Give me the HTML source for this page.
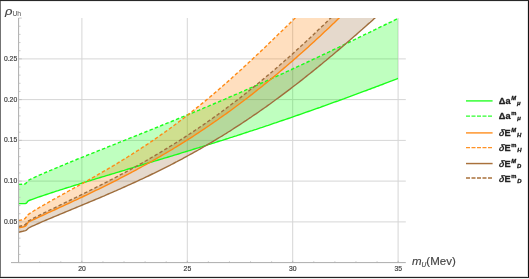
<!DOCTYPE html><html><head><meta charset="utf-8"><style>
html,body{margin:0;padding:0;background:#fff}
#w{position:relative;width:529px;height:279px;overflow:hidden;background:#fff;font-family:"Liberation Sans",sans-serif;color:#444}
.b{position:absolute;background:#2b2b2b}
.t{position:absolute;white-space:nowrap;line-height:1;filter:grayscale(1)}
.yl{font-size:6.8px;width:17.2px;text-align:right;left:0;-webkit-text-stroke:0.2px #444}
.xl{font-size:6.8px;width:20px;text-align:center;-webkit-text-stroke:0.2px #444}
.lg{font-size:9.2px;line-height:12px;height:12px;-webkit-text-stroke:0.3px #222;font-weight:bold;color:#222;left:498.8px}
.lg i{font-style:italic;display:inline-block;transform:skewX(-9deg);-webkit-text-stroke:0.1px #222}
.lg .su{font-size:5.8px;font-style:italic;position:relative;top:-3.9px;margin-left:0.7px;-webkit-text-stroke:0.3px #222;color:#111}
.lg .sb{font-size:5.9px;font-style:italic;position:relative;top:1.5px;margin-left:0.9px;-webkit-text-stroke:0.3px #222;color:#111}
</style></head><body><div id="w">
<svg width="529" height="279" viewBox="0 0 529 279" style="position:absolute;left:0;top:0">
<defs><clipPath id="cp"><rect x="18.6" y="18.0" width="379.6" height="244.6"/></clipPath></defs>
<line x1="81.9" y1="18.0" x2="81.9" y2="262.6" stroke="#d6d6d6" stroke-width="1"/>
<line x1="187.3" y1="18.0" x2="187.3" y2="262.6" stroke="#d6d6d6" stroke-width="1"/>
<line x1="292.7" y1="18.0" x2="292.7" y2="262.6" stroke="#d6d6d6" stroke-width="1"/>
<line x1="398.1" y1="18.0" x2="398.1" y2="262.6" stroke="#d6d6d6" stroke-width="1"/>
<line x1="18.6" y1="221.9" x2="405.8" y2="221.9" stroke="#d6d6d6" stroke-width="1"/>
<line x1="18.6" y1="181.1" x2="405.8" y2="181.1" stroke="#d6d6d6" stroke-width="1"/>
<line x1="18.6" y1="140.4" x2="405.8" y2="140.4" stroke="#d6d6d6" stroke-width="1"/>
<line x1="18.6" y1="99.6" x2="405.8" y2="99.6" stroke="#d6d6d6" stroke-width="1"/>
<line x1="18.6" y1="58.9" x2="405.8" y2="58.9" stroke="#d6d6d6" stroke-width="1"/>
<g clip-path="url(#cp)">
<polygon points="18.6,203.6 25.3,203.5 26.4,203.1 27.3,202.0 28.3,200.8 30.3,200.0 32.3,199.3 34.3,198.6 36.3,197.9 38.3,197.2 40.3,196.5 42.3,195.8 44.3,195.2 46.3,194.5 48.3,193.8 50.3,193.2 52.3,192.5 54.3,191.9 56.3,191.2 58.3,190.6 60.3,189.9 62.3,189.3 64.3,188.7 66.3,188.0 68.3,187.4 70.3,186.8 72.3,186.1 74.3,185.5 76.3,184.9 78.3,184.3 80.3,183.6 82.3,183.0 84.3,182.4 86.3,181.8 88.3,181.2 90.3,180.6 92.3,179.9 94.3,179.3 96.3,178.7 98.3,178.1 100.3,177.5 102.3,176.9 104.3,176.3 106.3,175.7 108.3,175.1 110.3,174.5 112.3,173.9 114.3,173.3 116.3,172.7 118.3,172.1 120.3,171.5 122.3,170.9 124.3,170.3 126.3,169.6 128.3,169.0 130.3,168.4 132.3,167.8 134.3,167.2 136.3,166.6 138.3,166.0 140.3,165.4 142.3,164.8 144.3,164.2 146.3,163.6 148.3,163.0 150.3,162.4 152.3,161.8 154.3,161.2 156.3,160.6 158.3,160.0 160.3,159.4 162.3,158.8 164.3,158.2 166.3,157.6 168.3,157.0 170.3,156.4 172.3,155.8 174.3,155.2 176.3,154.6 178.3,154.0 180.3,153.3 182.3,152.7 184.3,152.1 186.3,151.5 188.3,150.9 190.3,150.3 192.3,149.7 194.3,149.0 196.3,148.4 198.3,147.8 200.3,147.2 202.3,146.6 204.3,145.9 206.3,145.3 208.3,144.7 210.3,144.1 212.3,143.4 214.3,142.8 216.3,142.2 218.3,141.5 220.3,140.9 222.3,140.3 224.3,139.6 226.3,139.0 228.3,138.4 230.3,137.7 232.3,137.1 234.3,136.4 236.3,135.8 238.3,135.1 240.3,134.5 242.3,133.8 244.3,133.2 246.3,132.5 248.3,131.9 250.3,131.2 252.3,130.6 254.3,129.9 256.3,129.3 258.3,128.6 260.3,127.9 262.3,127.3 264.3,126.6 266.3,125.9 268.3,125.3 270.3,124.6 272.3,123.9 274.3,123.2 276.3,122.6 278.3,121.9 280.3,121.2 282.3,120.5 284.3,119.8 286.3,119.2 288.3,118.5 290.3,117.8 292.3,117.1 294.3,116.4 296.3,115.7 298.3,115.0 300.3,114.3 302.3,113.6 304.3,112.9 306.3,112.2 308.3,111.5 310.3,110.8 312.3,110.1 314.3,109.4 316.3,108.7 318.3,108.0 320.3,107.3 322.3,106.5 324.3,105.8 326.3,105.1 328.3,104.4 330.3,103.7 332.3,102.9 334.3,102.2 336.3,101.5 338.3,100.8 340.3,100.0 342.3,99.3 344.3,98.6 346.3,97.8 348.3,97.1 350.3,96.4 352.3,95.6 354.3,94.9 356.3,94.2 358.3,93.4 360.3,92.7 362.3,91.9 364.3,91.2 366.3,90.5 368.3,89.7 370.3,89.0 372.3,88.2 374.3,87.5 376.3,86.7 378.3,86.0 380.3,85.2 382.3,84.5 384.3,83.7 386.3,82.9 388.3,82.2 390.3,81.4 392.3,80.7 394.3,79.9 396.3,79.2 398.2,78.4 398.2,18.4 396.6,19.1 394.6,20.1 392.6,21.1 390.6,22.1 388.6,23.0 386.6,24.0 384.6,25.0 382.6,26.0 380.6,26.9 378.6,27.9 376.6,28.9 374.6,29.9 372.6,30.8 370.6,31.8 368.6,32.8 366.6,33.7 364.6,34.7 362.6,35.7 360.6,36.7 358.6,37.6 356.6,38.6 354.6,39.6 352.6,40.5 350.6,41.5 348.6,42.5 346.6,43.4 344.6,44.4 342.6,45.4 340.6,46.3 338.6,47.3 336.6,48.2 334.6,49.2 332.6,50.1 330.6,51.1 328.6,52.1 326.6,53.0 324.6,54.0 322.6,54.9 320.6,55.9 318.6,56.8 316.6,57.7 314.6,58.7 312.6,59.6 310.6,60.6 308.6,61.5 306.6,62.5 304.6,63.4 302.6,64.3 300.6,65.3 298.6,66.2 296.6,67.1 294.6,68.0 292.6,69.0 290.6,69.9 288.6,70.8 286.6,71.7 284.6,72.6 282.6,73.6 280.6,74.5 278.6,75.4 276.6,76.3 274.6,77.2 272.6,78.1 270.6,79.0 268.6,79.9 266.6,80.8 264.6,81.7 262.6,82.6 260.6,83.5 258.6,84.4 256.6,85.3 254.6,86.2 252.6,87.1 250.6,87.9 248.6,88.8 246.6,89.7 244.6,90.6 242.6,91.5 240.6,92.3 238.6,93.2 236.6,94.1 234.6,94.9 232.6,95.8 230.6,96.7 228.6,97.5 226.6,98.4 224.6,99.3 222.6,100.1 220.6,101.0 218.6,101.8 216.6,102.7 214.6,103.5 212.6,104.4 210.6,105.2 208.6,106.1 206.6,106.9 204.6,107.7 202.6,108.6 200.6,109.4 198.6,110.3 196.6,111.1 194.6,111.9 192.6,112.8 190.6,113.6 188.6,114.4 186.6,115.2 184.6,116.1 182.6,116.9 180.6,117.7 178.6,118.5 176.6,119.3 174.6,120.2 172.6,121.0 170.6,121.8 168.6,122.6 166.6,123.4 164.6,124.2 162.6,125.0 160.6,125.8 158.6,126.7 156.6,127.5 154.6,128.3 152.6,129.1 150.6,129.9 148.6,130.7 146.6,131.5 144.6,132.3 142.6,133.1 140.6,133.9 138.6,134.7 136.6,135.5 134.6,136.3 132.6,137.1 130.6,137.9 128.6,138.7 126.6,139.5 124.6,140.3 122.6,141.1 120.6,141.9 118.6,142.7 116.6,143.5 114.6,144.3 112.6,145.1 110.6,145.9 108.6,146.7 106.6,147.5 104.6,148.3 102.6,149.1 100.6,149.9 98.6,150.7 96.6,151.5 94.6,152.3 92.6,153.1 90.6,153.9 88.6,154.7 86.6,155.5 84.6,156.3 82.6,157.1 80.6,157.9 78.6,158.7 76.6,159.5 74.6,160.4 72.6,161.2 70.6,162.0 68.6,162.8 66.6,163.6 64.6,164.5 62.6,165.3 60.6,166.1 58.6,167.0 56.6,167.8 54.6,168.6 52.6,169.5 50.6,170.3 48.6,171.2 46.6,172.0 44.6,172.9 42.6,173.8 40.6,174.6 38.6,175.5 36.6,176.4 34.6,177.3 32.6,178.3 30.6,179.2 28.6,180.2 26.9,182.2 25.6,183.6 24.3,184.2 18.6,184.4" fill="#00ff00" fill-opacity="0.25"/>
<polygon points="18.6,227.9 22.8,227.0 25.0,226.3 26.2,225.4 27.2,223.8 28.3,222.2 30.3,221.2 32.3,220.2 34.3,219.3 36.3,218.3 38.3,217.4 40.3,216.4 42.3,215.5 44.3,214.6 46.3,213.7 48.3,212.7 50.3,211.8 52.3,210.9 54.3,210.0 56.3,209.0 58.3,208.1 60.3,207.2 62.3,206.3 64.3,205.4 66.3,204.4 68.3,203.5 70.3,202.6 72.3,201.6 74.3,200.7 76.3,199.8 78.3,198.8 80.3,197.9 82.3,197.0 84.3,196.0 86.3,195.1 88.3,194.1 90.3,193.1 92.3,192.2 94.3,191.2 96.3,190.2 98.3,189.3 100.3,188.3 102.3,187.3 104.3,186.3 106.3,185.3 108.3,184.3 110.3,183.3 112.3,182.3 114.3,181.3 116.3,180.3 118.3,179.3 120.3,178.2 122.3,177.2 124.3,176.2 126.3,175.1 128.3,174.1 130.3,173.0 132.3,172.0 134.3,170.9 136.3,169.8 138.3,168.7 140.3,167.6 142.3,166.5 144.3,165.4 146.3,164.3 148.3,163.2 150.3,162.1 152.3,161.0 154.3,159.8 156.3,158.7 158.3,157.5 160.3,156.4 162.3,155.2 164.3,154.0 166.3,152.8 168.3,151.7 170.3,150.5 172.3,149.3 174.3,148.0 176.3,146.8 178.3,145.6 180.3,144.4 182.3,143.1 184.3,141.9 186.3,140.6 188.3,139.3 190.3,138.1 192.3,136.8 194.3,135.5 196.3,134.2 198.3,132.9 200.3,131.5 202.3,130.2 204.3,128.9 206.3,127.5 208.3,126.2 210.3,124.8 212.3,123.4 214.3,122.0 216.3,120.7 218.3,119.3 220.3,117.8 222.3,116.4 224.3,115.0 226.3,113.6 228.3,112.1 230.3,110.7 232.3,109.2 234.3,107.7 236.3,106.2 238.3,104.8 240.3,103.3 242.3,101.7 244.3,100.2 246.3,98.7 248.3,97.2 250.3,95.6 252.3,94.1 254.3,92.5 256.3,90.9 258.3,89.3 260.3,87.8 262.3,86.2 264.3,84.5 266.3,82.9 268.3,81.3 270.3,79.7 272.3,78.0 274.3,76.4 276.3,74.7 278.3,73.0 280.3,71.3 282.3,69.6 284.3,67.9 286.3,66.2 288.3,64.5 290.3,62.8 292.3,61.1 294.3,59.3 296.3,57.6 298.3,55.8 300.3,54.0 302.3,52.3 304.3,50.5 306.3,48.7 308.3,46.9 310.3,45.0 312.3,43.2 314.3,41.4 316.3,39.6 318.3,37.7 320.3,35.9 322.3,34.0 324.3,32.1 326.3,30.3 328.3,28.4 330.3,26.5 332.3,24.6 334.3,22.7 336.3,20.7 338.3,18.8 340.3,16.9 342.3,14.9 344.3,13.0 346.3,11.0 348.3,9.1 350.3,7.1 352.3,5.1 354.3,3.2 356.3,1.2 358.3,-0.8 360.3,-2.8 362.3,-4.8 364.3,-6.8 366.3,-8.9 368.3,-10.9 370.3,-12.9 372.3,-15.0 374.3,-17.0 376.3,-19.1 378.3,-21.1 380.3,-23.2 382.3,-25.3 384.3,-27.3 386.3,-29.4 388.3,-31.5 390.3,-33.6 392.3,-35.7 394.3,-37.8 396.3,-39.9 398.2,-41.9 398.2,-73.8 397.6,-73.4 395.6,-72.1 393.6,-70.6 391.6,-69.2 389.6,-67.7 387.6,-66.3 385.6,-64.7 383.6,-63.2 381.6,-61.7 379.6,-60.1 377.6,-58.5 375.6,-56.9 373.6,-55.2 371.6,-53.6 369.6,-51.9 367.6,-50.2 365.6,-48.5 363.6,-46.8 361.6,-45.1 359.6,-43.3 357.6,-41.6 355.6,-39.8 353.6,-38.0 351.6,-36.2 349.6,-34.4 347.6,-32.5 345.6,-30.7 343.6,-28.8 341.6,-27.0 339.6,-25.1 337.6,-23.2 335.6,-21.3 333.6,-19.4 331.6,-17.5 329.6,-15.6 327.6,-13.7 325.6,-11.8 323.6,-9.8 321.6,-7.9 319.6,-6.0 317.6,-4.0 315.6,-2.1 313.6,-0.1 311.6,1.8 309.6,3.8 307.6,5.7 305.6,7.7 303.6,9.7 301.6,11.6 299.6,13.6 297.6,15.5 295.6,17.5 293.6,19.5 291.6,21.4 289.6,23.4 287.6,25.3 285.6,27.3 283.6,29.2 281.6,31.2 279.6,33.1 277.6,35.1 275.6,37.0 273.6,39.0 271.6,40.9 269.6,42.8 267.6,44.7 265.6,46.7 263.6,48.6 261.6,50.5 259.6,52.4 257.6,54.3 255.6,56.1 253.6,58.0 251.6,59.9 249.6,61.8 247.6,63.6 245.6,65.5 243.6,67.3 241.6,69.2 239.6,71.0 237.6,72.8 235.6,74.6 233.6,76.4 231.6,78.2 229.6,80.0 227.6,81.7 225.6,83.5 223.6,85.3 221.6,87.0 219.6,88.7 217.6,90.5 215.6,92.2 213.6,93.9 211.6,95.6 209.6,97.3 207.6,98.9 205.6,100.6 203.6,102.3 201.6,103.9 199.6,105.5 197.6,107.1 195.6,108.8 193.6,110.3 191.6,111.9 189.6,113.5 187.6,115.1 185.6,116.6 183.6,118.2 181.6,119.7 179.6,121.2 177.6,122.7 175.6,124.2 173.6,125.7 171.6,127.2 169.6,128.7 167.6,130.1 165.6,131.6 163.6,133.0 161.6,134.4 159.6,135.8 157.6,137.2 155.6,138.6 153.6,140.0 151.6,141.4 149.6,142.7 147.6,144.1 145.6,145.4 143.6,146.7 141.6,148.0 139.6,149.4 137.6,150.7 135.6,151.9 133.6,153.2 131.6,154.5 129.6,155.8 127.6,157.0 125.6,158.3 123.6,159.5 121.6,160.7 119.6,161.9 117.6,163.2 115.6,164.4 113.6,165.6 111.6,166.7 109.6,167.9 107.6,169.1 105.6,170.3 103.6,171.4 101.6,172.6 99.6,173.7 97.6,174.9 95.6,176.0 93.6,177.2 91.6,178.3 89.6,179.4 87.6,180.6 85.6,181.7 83.6,182.8 81.6,183.9 79.6,185.0 77.6,186.1 75.6,187.2 73.6,188.3 71.6,189.4 69.6,190.5 67.6,191.6 65.6,192.8 63.6,193.9 61.6,195.0 59.6,196.1 57.6,197.2 55.6,198.3 53.6,199.4 51.6,200.5 49.6,201.6 47.6,202.8 45.6,203.9 43.6,205.1 41.6,206.2 39.6,207.4 37.6,208.6 35.6,209.8 33.6,211.0 31.6,212.3 29.6,213.6 27.6,214.9 25.9,217.6 24.6,218.9 22.8,219.8 18.6,220.5" fill="#ff8000" fill-opacity="0.25"/>
<polygon points="18.6,232.3 22.8,231.3 25.4,230.6 26.4,230.1 27.3,229.3 28.3,228.2 30.3,227.2 32.3,226.2 34.3,225.3 36.3,224.4 38.3,223.5 40.3,222.6 42.3,221.7 44.3,220.9 46.3,220.0 48.3,219.2 50.3,218.3 52.3,217.5 54.3,216.6 56.3,215.8 58.3,215.0 60.3,214.1 62.3,213.3 64.3,212.5 66.3,211.6 68.3,210.8 70.3,210.0 72.3,209.1 74.3,208.3 76.3,207.5 78.3,206.7 80.3,205.8 82.3,205.0 84.3,204.2 86.3,203.3 88.3,202.5 90.3,201.7 92.3,200.8 94.3,200.0 96.3,199.1 98.3,198.3 100.3,197.5 102.3,196.6 104.3,195.8 106.3,194.9 108.3,194.0 110.3,193.2 112.3,192.3 114.3,191.4 116.3,190.6 118.3,189.7 120.3,188.8 122.3,187.9 124.3,187.0 126.3,186.1 128.3,185.2 130.3,184.3 132.3,183.4 134.3,182.5 136.3,181.6 138.3,180.7 140.3,179.7 142.3,178.8 144.3,177.9 146.3,176.9 148.3,176.0 150.3,175.0 152.3,174.0 154.3,173.1 156.3,172.1 158.3,171.1 160.3,170.1 162.3,169.1 164.3,168.1 166.3,167.1 168.3,166.1 170.3,165.1 172.3,164.0 174.3,163.0 176.3,162.0 178.3,160.9 180.3,159.8 182.3,158.8 184.3,157.7 186.3,156.6 188.3,155.5 190.3,154.4 192.3,153.3 194.3,152.2 196.3,151.1 198.3,150.0 200.3,148.8 202.3,147.7 204.3,146.5 206.3,145.4 208.3,144.2 210.3,143.0 212.3,141.8 214.3,140.6 216.3,139.4 218.3,138.2 220.3,137.0 222.3,135.8 224.3,134.5 226.3,133.3 228.3,132.0 230.3,130.8 232.3,129.5 234.3,128.2 236.3,126.9 238.3,125.6 240.3,124.3 242.3,123.0 244.3,121.7 246.3,120.4 248.3,119.0 250.3,117.7 252.3,116.3 254.3,114.9 256.3,113.6 258.3,112.2 260.3,110.8 262.3,109.4 264.3,108.0 266.3,106.6 268.3,105.1 270.3,103.7 272.3,102.2 274.3,100.8 276.3,99.3 278.3,97.9 280.3,96.4 282.3,94.9 284.3,93.4 286.3,91.9 288.3,90.4 290.3,88.9 292.3,87.3 294.3,85.8 296.3,84.3 298.3,82.7 300.3,81.1 302.3,79.6 304.3,78.0 306.3,76.4 308.3,74.8 310.3,73.2 312.3,71.6 314.3,70.0 316.3,68.4 318.3,66.8 320.3,65.1 322.3,63.5 324.3,61.8 326.3,60.2 328.3,58.5 330.3,56.8 332.3,55.2 334.3,53.5 336.3,51.8 338.3,50.1 340.3,48.4 342.3,46.7 344.3,45.0 346.3,43.2 348.3,41.5 350.3,39.8 352.3,38.0 354.3,36.3 356.3,34.6 358.3,32.8 360.3,31.0 362.3,29.3 364.3,27.5 366.3,25.7 368.3,23.9 370.3,22.2 372.3,20.4 374.3,18.6 376.3,16.8 378.3,15.0 380.3,13.2 382.3,11.4 384.3,9.6 386.3,7.7 388.3,5.9 390.3,4.1 392.3,2.3 394.3,0.5 396.3,-1.4 398.2,-3.1 398.2,-51.6 397.6,-51.0 395.6,-48.8 393.6,-46.7 391.6,-44.6 389.6,-42.4 387.6,-40.3 385.6,-38.2 383.6,-36.1 381.6,-34.0 379.6,-31.8 377.6,-29.7 375.6,-27.6 373.6,-25.5 371.6,-23.5 369.6,-21.4 367.6,-19.3 365.6,-17.2 363.6,-15.2 361.6,-13.1 359.6,-11.0 357.6,-9.0 355.6,-6.9 353.6,-4.9 351.6,-2.9 349.6,-0.8 347.6,1.2 345.6,3.2 343.6,5.2 341.6,7.2 339.6,9.2 337.6,11.2 335.6,13.1 333.6,15.1 331.6,17.1 329.6,19.0 327.6,21.0 325.6,22.9 323.6,24.9 321.6,26.8 319.6,28.7 317.6,30.6 315.6,32.5 313.6,34.4 311.6,36.3 309.6,38.2 307.6,40.0 305.6,41.9 303.6,43.7 301.6,45.6 299.6,47.4 297.6,49.2 295.6,51.1 293.6,52.9 291.6,54.7 289.6,56.5 287.6,58.2 285.6,60.0 283.6,61.8 281.6,63.5 279.6,65.3 277.6,67.0 275.6,68.7 273.6,70.5 271.6,72.2 269.6,73.9 267.6,75.5 265.6,77.2 263.6,78.9 261.6,80.6 259.6,82.2 257.6,83.8 255.6,85.5 253.6,87.1 251.6,88.7 249.6,90.3 247.6,91.9 245.6,93.5 243.6,95.1 241.6,96.6 239.6,98.2 237.6,99.7 235.6,101.3 233.6,102.8 231.6,104.3 229.6,105.8 227.6,107.3 225.6,108.8 223.6,110.3 221.6,111.8 219.6,113.2 217.6,114.7 215.6,116.1 213.6,117.5 211.6,119.0 209.6,120.4 207.6,121.8 205.6,123.2 203.6,124.6 201.6,125.9 199.6,127.3 197.6,128.7 195.6,130.0 193.6,131.3 191.6,132.7 189.6,134.0 187.6,135.3 185.6,136.6 183.6,137.9 181.6,139.2 179.6,140.5 177.6,141.8 175.6,143.0 173.6,144.3 171.6,145.5 169.6,146.7 167.6,148.0 165.6,149.2 163.6,150.4 161.6,151.6 159.6,152.8 157.6,154.0 155.6,155.2 153.6,156.4 151.6,157.5 149.6,158.7 147.6,159.8 145.6,161.0 143.6,162.1 141.6,163.3 139.6,164.4 137.6,165.5 135.6,166.6 133.6,167.7 131.6,168.8 129.6,169.9 127.6,171.0 125.6,172.1 123.6,173.2 121.6,174.2 119.6,175.3 117.6,176.3 115.6,177.4 113.6,178.4 111.6,179.5 109.6,180.5 107.6,181.6 105.6,182.6 103.6,183.6 101.6,184.6 99.6,185.6 97.6,186.7 95.6,187.7 93.6,188.7 91.6,189.7 89.6,190.7 87.6,191.7 85.6,192.6 83.6,193.6 81.6,194.6 79.6,195.6 77.6,196.6 75.6,197.6 73.6,198.5 71.6,199.5 69.6,200.5 67.6,201.5 65.6,202.4 63.6,203.4 61.6,204.4 59.6,205.3 57.6,206.3 55.6,207.3 53.6,208.3 51.6,209.2 49.6,210.2 47.6,211.2 45.6,212.2 43.6,213.1 41.6,214.1 39.6,215.1 37.6,216.1 35.6,217.2 33.6,218.2 31.6,219.2 29.6,220.3 27.6,221.4 26.6,223.0 25.6,224.3 24.6,225.0 22.8,225.6 18.6,226.5" fill="#996633" fill-opacity="0.25"/>
<polyline points="18.6,203.6 25.3,203.5 26.4,203.1 27.3,202.0 28.3,200.8 30.3,200.0 32.3,199.3 34.3,198.6 36.3,197.9 38.3,197.2 40.3,196.5 42.3,195.8 44.3,195.2 46.3,194.5 48.3,193.8 50.3,193.2 52.3,192.5 54.3,191.9 56.3,191.2 58.3,190.6 60.3,189.9 62.3,189.3 64.3,188.7 66.3,188.0 68.3,187.4 70.3,186.8 72.3,186.1 74.3,185.5 76.3,184.9 78.3,184.3 80.3,183.6 82.3,183.0 84.3,182.4 86.3,181.8 88.3,181.2 90.3,180.6 92.3,179.9 94.3,179.3 96.3,178.7 98.3,178.1 100.3,177.5 102.3,176.9 104.3,176.3 106.3,175.7 108.3,175.1 110.3,174.5 112.3,173.9 114.3,173.3 116.3,172.7 118.3,172.1 120.3,171.5 122.3,170.9 124.3,170.3 126.3,169.6 128.3,169.0 130.3,168.4 132.3,167.8 134.3,167.2 136.3,166.6 138.3,166.0 140.3,165.4 142.3,164.8 144.3,164.2 146.3,163.6 148.3,163.0 150.3,162.4 152.3,161.8 154.3,161.2 156.3,160.6 158.3,160.0 160.3,159.4 162.3,158.8 164.3,158.2 166.3,157.6 168.3,157.0 170.3,156.4 172.3,155.8 174.3,155.2 176.3,154.6 178.3,154.0 180.3,153.3 182.3,152.7 184.3,152.1 186.3,151.5 188.3,150.9 190.3,150.3 192.3,149.7 194.3,149.0 196.3,148.4 198.3,147.8 200.3,147.2 202.3,146.6 204.3,145.9 206.3,145.3 208.3,144.7 210.3,144.1 212.3,143.4 214.3,142.8 216.3,142.2 218.3,141.5 220.3,140.9 222.3,140.3 224.3,139.6 226.3,139.0 228.3,138.4 230.3,137.7 232.3,137.1 234.3,136.4 236.3,135.8 238.3,135.1 240.3,134.5 242.3,133.8 244.3,133.2 246.3,132.5 248.3,131.9 250.3,131.2 252.3,130.6 254.3,129.9 256.3,129.3 258.3,128.6 260.3,127.9 262.3,127.3 264.3,126.6 266.3,125.9 268.3,125.3 270.3,124.6 272.3,123.9 274.3,123.2 276.3,122.6 278.3,121.9 280.3,121.2 282.3,120.5 284.3,119.8 286.3,119.2 288.3,118.5 290.3,117.8 292.3,117.1 294.3,116.4 296.3,115.7 298.3,115.0 300.3,114.3 302.3,113.6 304.3,112.9 306.3,112.2 308.3,111.5 310.3,110.8 312.3,110.1 314.3,109.4 316.3,108.7 318.3,108.0 320.3,107.3 322.3,106.5 324.3,105.8 326.3,105.1 328.3,104.4 330.3,103.7 332.3,102.9 334.3,102.2 336.3,101.5 338.3,100.8 340.3,100.0 342.3,99.3 344.3,98.6 346.3,97.8 348.3,97.1 350.3,96.4 352.3,95.6 354.3,94.9 356.3,94.2 358.3,93.4 360.3,92.7 362.3,91.9 364.3,91.2 366.3,90.5 368.3,89.7 370.3,89.0 372.3,88.2 374.3,87.5 376.3,86.7 378.3,86.0 380.3,85.2 382.3,84.5 384.3,83.7 386.3,82.9 388.3,82.2 390.3,81.4 392.3,80.7 394.3,79.9 396.3,79.2 398.2,78.4" fill="none" stroke="#19ff19" stroke-width="1.4"/>
<polyline points="18.6,184.4 24.3,184.2 25.6,183.6 26.9,182.2 28.6,180.2 30.6,179.2 32.6,178.3 34.6,177.3 36.6,176.4 38.6,175.5 40.6,174.6 42.6,173.8 44.6,172.9 46.6,172.0 48.6,171.2 50.6,170.3 52.6,169.5 54.6,168.6 56.6,167.8 58.6,167.0 60.6,166.1 62.6,165.3 64.6,164.5 66.6,163.6 68.6,162.8 70.6,162.0 72.6,161.2 74.6,160.4 76.6,159.5 78.6,158.7 80.6,157.9 82.6,157.1 84.6,156.3 86.6,155.5 88.6,154.7 90.6,153.9 92.6,153.1 94.6,152.3 96.6,151.5 98.6,150.7 100.6,149.9 102.6,149.1 104.6,148.3 106.6,147.5 108.6,146.7 110.6,145.9 112.6,145.1 114.6,144.3 116.6,143.5 118.6,142.7 120.6,141.9 122.6,141.1 124.6,140.3 126.6,139.5 128.6,138.7 130.6,137.9 132.6,137.1 134.6,136.3 136.6,135.5 138.6,134.7 140.6,133.9 142.6,133.1 144.6,132.3 146.6,131.5 148.6,130.7 150.6,129.9 152.6,129.1 154.6,128.3 156.6,127.5 158.6,126.7 160.6,125.8 162.6,125.0 164.6,124.2 166.6,123.4 168.6,122.6 170.6,121.8 172.6,121.0 174.6,120.2 176.6,119.3 178.6,118.5 180.6,117.7 182.6,116.9 184.6,116.1 186.6,115.2 188.6,114.4 190.6,113.6 192.6,112.8 194.6,111.9 196.6,111.1 198.6,110.3 200.6,109.4 202.6,108.6 204.6,107.7 206.6,106.9 208.6,106.1 210.6,105.2 212.6,104.4 214.6,103.5 216.6,102.7 218.6,101.8 220.6,101.0 222.6,100.1 224.6,99.3 226.6,98.4 228.6,97.5 230.6,96.7 232.6,95.8 234.6,94.9 236.6,94.1 238.6,93.2 240.6,92.3 242.6,91.5 244.6,90.6 246.6,89.7 248.6,88.8 250.6,87.9 252.6,87.1 254.6,86.2 256.6,85.3 258.6,84.4 260.6,83.5 262.6,82.6 264.6,81.7 266.6,80.8 268.6,79.9 270.6,79.0 272.6,78.1 274.6,77.2 276.6,76.3 278.6,75.4 280.6,74.5 282.6,73.6 284.6,72.6 286.6,71.7 288.6,70.8 290.6,69.9 292.6,69.0 294.6,68.0 296.6,67.1 298.6,66.2 300.6,65.3 302.6,64.3 304.6,63.4 306.6,62.5 308.6,61.5 310.6,60.6 312.6,59.6 314.6,58.7 316.6,57.7 318.6,56.8 320.6,55.9 322.6,54.9 324.6,54.0 326.6,53.0 328.6,52.1 330.6,51.1 332.6,50.1 334.6,49.2 336.6,48.2 338.6,47.3 340.6,46.3 342.6,45.4 344.6,44.4 346.6,43.4 348.6,42.5 350.6,41.5 352.6,40.5 354.6,39.6 356.6,38.6 358.6,37.6 360.6,36.7 362.6,35.7 364.6,34.7 366.6,33.7 368.6,32.8 370.6,31.8 372.6,30.8 374.6,29.9 376.6,28.9 378.6,27.9 380.6,26.9 382.6,26.0 384.6,25.0 386.6,24.0 388.6,23.0 390.6,22.1 392.6,21.1 394.6,20.1 396.6,19.1 398.2,18.4" fill="none" stroke="#19ff19" stroke-width="1.4" stroke-dasharray="3.5 2.2"/>
<polyline points="18.6,227.9 22.8,227.0 25.0,226.3 26.2,225.4 27.2,223.8 28.3,222.2 30.3,221.2 32.3,220.2 34.3,219.3 36.3,218.3 38.3,217.4 40.3,216.4 42.3,215.5 44.3,214.6 46.3,213.7 48.3,212.7 50.3,211.8 52.3,210.9 54.3,210.0 56.3,209.0 58.3,208.1 60.3,207.2 62.3,206.3 64.3,205.4 66.3,204.4 68.3,203.5 70.3,202.6 72.3,201.6 74.3,200.7 76.3,199.8 78.3,198.8 80.3,197.9 82.3,197.0 84.3,196.0 86.3,195.1 88.3,194.1 90.3,193.1 92.3,192.2 94.3,191.2 96.3,190.2 98.3,189.3 100.3,188.3 102.3,187.3 104.3,186.3 106.3,185.3 108.3,184.3 110.3,183.3 112.3,182.3 114.3,181.3 116.3,180.3 118.3,179.3 120.3,178.2 122.3,177.2 124.3,176.2 126.3,175.1 128.3,174.1 130.3,173.0 132.3,172.0 134.3,170.9 136.3,169.8 138.3,168.7 140.3,167.6 142.3,166.5 144.3,165.4 146.3,164.3 148.3,163.2 150.3,162.1 152.3,161.0 154.3,159.8 156.3,158.7 158.3,157.5 160.3,156.4 162.3,155.2 164.3,154.0 166.3,152.8 168.3,151.7 170.3,150.5 172.3,149.3 174.3,148.0 176.3,146.8 178.3,145.6 180.3,144.4 182.3,143.1 184.3,141.9 186.3,140.6 188.3,139.3 190.3,138.1 192.3,136.8 194.3,135.5 196.3,134.2 198.3,132.9 200.3,131.5 202.3,130.2 204.3,128.9 206.3,127.5 208.3,126.2 210.3,124.8 212.3,123.4 214.3,122.0 216.3,120.7 218.3,119.3 220.3,117.8 222.3,116.4 224.3,115.0 226.3,113.6 228.3,112.1 230.3,110.7 232.3,109.2 234.3,107.7 236.3,106.2 238.3,104.8 240.3,103.3 242.3,101.7 244.3,100.2 246.3,98.7 248.3,97.2 250.3,95.6 252.3,94.1 254.3,92.5 256.3,90.9 258.3,89.3 260.3,87.8 262.3,86.2 264.3,84.5 266.3,82.9 268.3,81.3 270.3,79.7 272.3,78.0 274.3,76.4 276.3,74.7 278.3,73.0 280.3,71.3 282.3,69.6 284.3,67.9 286.3,66.2 288.3,64.5 290.3,62.8 292.3,61.1 294.3,59.3 296.3,57.6 298.3,55.8 300.3,54.0 302.3,52.3 304.3,50.5 306.3,48.7 308.3,46.9 310.3,45.0 312.3,43.2 314.3,41.4 316.3,39.6 318.3,37.7 320.3,35.9 322.3,34.0 324.3,32.1 326.3,30.3 328.3,28.4 330.3,26.5 332.3,24.6 334.3,22.7 336.3,20.7 338.3,18.8 340.3,16.9 342.3,14.9 344.3,13.0 346.3,11.0 348.3,9.1 350.3,7.1 352.3,5.1 354.3,3.2 356.3,1.2 358.3,-0.8 360.3,-2.8 362.3,-4.8 364.3,-6.8 366.3,-8.9 368.3,-10.9 370.3,-12.9 372.3,-15.0 374.3,-17.0 376.3,-19.1 378.3,-21.1 380.3,-23.2 382.3,-25.3 384.3,-27.3 386.3,-29.4 388.3,-31.5 390.3,-33.6 392.3,-35.7 394.3,-37.8 396.3,-39.9 398.2,-41.9" fill="none" stroke="#ff8a14" stroke-width="1.4"/>
<polyline points="18.6,220.5 22.8,219.8 24.6,218.9 25.9,217.6 27.6,214.9 29.6,213.6 31.6,212.3 33.6,211.0 35.6,209.8 37.6,208.6 39.6,207.4 41.6,206.2 43.6,205.1 45.6,203.9 47.6,202.8 49.6,201.6 51.6,200.5 53.6,199.4 55.6,198.3 57.6,197.2 59.6,196.1 61.6,195.0 63.6,193.9 65.6,192.8 67.6,191.6 69.6,190.5 71.6,189.4 73.6,188.3 75.6,187.2 77.6,186.1 79.6,185.0 81.6,183.9 83.6,182.8 85.6,181.7 87.6,180.6 89.6,179.4 91.6,178.3 93.6,177.2 95.6,176.0 97.6,174.9 99.6,173.7 101.6,172.6 103.6,171.4 105.6,170.3 107.6,169.1 109.6,167.9 111.6,166.7 113.6,165.6 115.6,164.4 117.6,163.2 119.6,161.9 121.6,160.7 123.6,159.5 125.6,158.3 127.6,157.0 129.6,155.8 131.6,154.5 133.6,153.2 135.6,151.9 137.6,150.7 139.6,149.4 141.6,148.0 143.6,146.7 145.6,145.4 147.6,144.1 149.6,142.7 151.6,141.4 153.6,140.0 155.6,138.6 157.6,137.2 159.6,135.8 161.6,134.4 163.6,133.0 165.6,131.6 167.6,130.1 169.6,128.7 171.6,127.2 173.6,125.7 175.6,124.2 177.6,122.7 179.6,121.2 181.6,119.7 183.6,118.2 185.6,116.6 187.6,115.1 189.6,113.5 191.6,111.9 193.6,110.3 195.6,108.8 197.6,107.1 199.6,105.5 201.6,103.9 203.6,102.3 205.6,100.6 207.6,98.9 209.6,97.3 211.6,95.6 213.6,93.9 215.6,92.2 217.6,90.5 219.6,88.7 221.6,87.0 223.6,85.3 225.6,83.5 227.6,81.7 229.6,80.0 231.6,78.2 233.6,76.4 235.6,74.6 237.6,72.8 239.6,71.0 241.6,69.2 243.6,67.3 245.6,65.5 247.6,63.6 249.6,61.8 251.6,59.9 253.6,58.0 255.6,56.1 257.6,54.3 259.6,52.4 261.6,50.5 263.6,48.6 265.6,46.7 267.6,44.7 269.6,42.8 271.6,40.9 273.6,39.0 275.6,37.0 277.6,35.1 279.6,33.1 281.6,31.2 283.6,29.2 285.6,27.3 287.6,25.3 289.6,23.4 291.6,21.4 293.6,19.5 295.6,17.5 297.6,15.5 299.6,13.6 301.6,11.6 303.6,9.7 305.6,7.7 307.6,5.7 309.6,3.8 311.6,1.8 313.6,-0.1 315.6,-2.1 317.6,-4.0 319.6,-6.0 321.6,-7.9 323.6,-9.8 325.6,-11.8 327.6,-13.7 329.6,-15.6 331.6,-17.5 333.6,-19.4 335.6,-21.3 337.6,-23.2 339.6,-25.1 341.6,-27.0 343.6,-28.8 345.6,-30.7 347.6,-32.5 349.6,-34.4 351.6,-36.2 353.6,-38.0 355.6,-39.8 357.6,-41.6 359.6,-43.3 361.6,-45.1 363.6,-46.8 365.6,-48.5 367.6,-50.2 369.6,-51.9 371.6,-53.6 373.6,-55.2 375.6,-56.9 377.6,-58.5 379.6,-60.1 381.6,-61.7 383.6,-63.2 385.6,-64.7 387.6,-66.3 389.6,-67.7 391.6,-69.2 393.6,-70.6 395.6,-72.1 397.6,-73.4 398.2,-73.8" fill="none" stroke="#ff8a14" stroke-width="1.4" stroke-dasharray="3.5 2.2"/>
<polyline points="18.6,232.3 22.8,231.3 25.4,230.6 26.4,230.1 27.3,229.3 28.3,228.2 30.3,227.2 32.3,226.2 34.3,225.3 36.3,224.4 38.3,223.5 40.3,222.6 42.3,221.7 44.3,220.9 46.3,220.0 48.3,219.2 50.3,218.3 52.3,217.5 54.3,216.6 56.3,215.8 58.3,215.0 60.3,214.1 62.3,213.3 64.3,212.5 66.3,211.6 68.3,210.8 70.3,210.0 72.3,209.1 74.3,208.3 76.3,207.5 78.3,206.7 80.3,205.8 82.3,205.0 84.3,204.2 86.3,203.3 88.3,202.5 90.3,201.7 92.3,200.8 94.3,200.0 96.3,199.1 98.3,198.3 100.3,197.5 102.3,196.6 104.3,195.8 106.3,194.9 108.3,194.0 110.3,193.2 112.3,192.3 114.3,191.4 116.3,190.6 118.3,189.7 120.3,188.8 122.3,187.9 124.3,187.0 126.3,186.1 128.3,185.2 130.3,184.3 132.3,183.4 134.3,182.5 136.3,181.6 138.3,180.7 140.3,179.7 142.3,178.8 144.3,177.9 146.3,176.9 148.3,176.0 150.3,175.0 152.3,174.0 154.3,173.1 156.3,172.1 158.3,171.1 160.3,170.1 162.3,169.1 164.3,168.1 166.3,167.1 168.3,166.1 170.3,165.1 172.3,164.0 174.3,163.0 176.3,162.0 178.3,160.9 180.3,159.8 182.3,158.8 184.3,157.7 186.3,156.6 188.3,155.5 190.3,154.4 192.3,153.3 194.3,152.2 196.3,151.1 198.3,150.0 200.3,148.8 202.3,147.7 204.3,146.5 206.3,145.4 208.3,144.2 210.3,143.0 212.3,141.8 214.3,140.6 216.3,139.4 218.3,138.2 220.3,137.0 222.3,135.8 224.3,134.5 226.3,133.3 228.3,132.0 230.3,130.8 232.3,129.5 234.3,128.2 236.3,126.9 238.3,125.6 240.3,124.3 242.3,123.0 244.3,121.7 246.3,120.4 248.3,119.0 250.3,117.7 252.3,116.3 254.3,114.9 256.3,113.6 258.3,112.2 260.3,110.8 262.3,109.4 264.3,108.0 266.3,106.6 268.3,105.1 270.3,103.7 272.3,102.2 274.3,100.8 276.3,99.3 278.3,97.9 280.3,96.4 282.3,94.9 284.3,93.4 286.3,91.9 288.3,90.4 290.3,88.9 292.3,87.3 294.3,85.8 296.3,84.3 298.3,82.7 300.3,81.1 302.3,79.6 304.3,78.0 306.3,76.4 308.3,74.8 310.3,73.2 312.3,71.6 314.3,70.0 316.3,68.4 318.3,66.8 320.3,65.1 322.3,63.5 324.3,61.8 326.3,60.2 328.3,58.5 330.3,56.8 332.3,55.2 334.3,53.5 336.3,51.8 338.3,50.1 340.3,48.4 342.3,46.7 344.3,45.0 346.3,43.2 348.3,41.5 350.3,39.8 352.3,38.0 354.3,36.3 356.3,34.6 358.3,32.8 360.3,31.0 362.3,29.3 364.3,27.5 366.3,25.7 368.3,23.9 370.3,22.2 372.3,20.4 374.3,18.6 376.3,16.8 378.3,15.0 380.3,13.2 382.3,11.4 384.3,9.6 386.3,7.7 388.3,5.9 390.3,4.1 392.3,2.3 394.3,0.5 396.3,-1.4 398.2,-3.1" fill="none" stroke="#9f6e3d" stroke-width="1.4"/>
<polyline points="18.6,226.5 22.8,225.6 24.6,225.0 25.6,224.3 26.6,223.0 27.6,221.4 29.6,220.3 31.6,219.2 33.6,218.2 35.6,217.2 37.6,216.1 39.6,215.1 41.6,214.1 43.6,213.1 45.6,212.2 47.6,211.2 49.6,210.2 51.6,209.2 53.6,208.3 55.6,207.3 57.6,206.3 59.6,205.3 61.6,204.4 63.6,203.4 65.6,202.4 67.6,201.5 69.6,200.5 71.6,199.5 73.6,198.5 75.6,197.6 77.6,196.6 79.6,195.6 81.6,194.6 83.6,193.6 85.6,192.6 87.6,191.7 89.6,190.7 91.6,189.7 93.6,188.7 95.6,187.7 97.6,186.7 99.6,185.6 101.6,184.6 103.6,183.6 105.6,182.6 107.6,181.6 109.6,180.5 111.6,179.5 113.6,178.4 115.6,177.4 117.6,176.3 119.6,175.3 121.6,174.2 123.6,173.2 125.6,172.1 127.6,171.0 129.6,169.9 131.6,168.8 133.6,167.7 135.6,166.6 137.6,165.5 139.6,164.4 141.6,163.3 143.6,162.1 145.6,161.0 147.6,159.8 149.6,158.7 151.6,157.5 153.6,156.4 155.6,155.2 157.6,154.0 159.6,152.8 161.6,151.6 163.6,150.4 165.6,149.2 167.6,148.0 169.6,146.7 171.6,145.5 173.6,144.3 175.6,143.0 177.6,141.8 179.6,140.5 181.6,139.2 183.6,137.9 185.6,136.6 187.6,135.3 189.6,134.0 191.6,132.7 193.6,131.3 195.6,130.0 197.6,128.7 199.6,127.3 201.6,125.9 203.6,124.6 205.6,123.2 207.6,121.8 209.6,120.4 211.6,119.0 213.6,117.5 215.6,116.1 217.6,114.7 219.6,113.2 221.6,111.8 223.6,110.3 225.6,108.8 227.6,107.3 229.6,105.8 231.6,104.3 233.6,102.8 235.6,101.3 237.6,99.7 239.6,98.2 241.6,96.6 243.6,95.1 245.6,93.5 247.6,91.9 249.6,90.3 251.6,88.7 253.6,87.1 255.6,85.5 257.6,83.8 259.6,82.2 261.6,80.6 263.6,78.9 265.6,77.2 267.6,75.5 269.6,73.9 271.6,72.2 273.6,70.5 275.6,68.7 277.6,67.0 279.6,65.3 281.6,63.5 283.6,61.8 285.6,60.0 287.6,58.2 289.6,56.5 291.6,54.7 293.6,52.9 295.6,51.1 297.6,49.2 299.6,47.4 301.6,45.6 303.6,43.7 305.6,41.9 307.6,40.0 309.6,38.2 311.6,36.3 313.6,34.4 315.6,32.5 317.6,30.6 319.6,28.7 321.6,26.8 323.6,24.9 325.6,22.9 327.6,21.0 329.6,19.0 331.6,17.1 333.6,15.1 335.6,13.1 337.6,11.2 339.6,9.2 341.6,7.2 343.6,5.2 345.6,3.2 347.6,1.2 349.6,-0.8 351.6,-2.9 353.6,-4.9 355.6,-6.9 357.6,-9.0 359.6,-11.0 361.6,-13.1 363.6,-15.2 365.6,-17.2 367.6,-19.3 369.6,-21.4 371.6,-23.5 373.6,-25.5 375.6,-27.6 377.6,-29.7 379.6,-31.8 381.6,-34.0 383.6,-36.1 385.6,-38.2 387.6,-40.3 389.6,-42.4 391.6,-44.6 393.6,-46.7 395.6,-48.8 397.6,-51.0 398.2,-51.6" fill="none" stroke="#9f6e3d" stroke-width="1.4" stroke-dasharray="3.5 2.2"/>
</g>
<line x1="18.6" y1="18.0" x2="18.6" y2="262.6" stroke="#adadad" stroke-width="1"/>
<line x1="11.0" y1="262.6" x2="405.8" y2="262.6" stroke="#adadad" stroke-width="1"/>
<line x1="18.6" y1="262.60" x2="21.8" y2="262.60" stroke="#bcbcbc" stroke-width="0.8"/>
<line x1="18.6" y1="254.45" x2="20.5" y2="254.45" stroke="#bcbcbc" stroke-width="0.8"/>
<line x1="18.6" y1="246.30" x2="20.5" y2="246.30" stroke="#bcbcbc" stroke-width="0.8"/>
<line x1="18.6" y1="238.15" x2="20.5" y2="238.15" stroke="#bcbcbc" stroke-width="0.8"/>
<line x1="18.6" y1="230.00" x2="20.5" y2="230.00" stroke="#bcbcbc" stroke-width="0.8"/>
<line x1="18.6" y1="221.85" x2="21.8" y2="221.85" stroke="#bcbcbc" stroke-width="0.8"/>
<line x1="18.6" y1="213.70" x2="20.5" y2="213.70" stroke="#bcbcbc" stroke-width="0.8"/>
<line x1="18.6" y1="205.55" x2="20.5" y2="205.55" stroke="#bcbcbc" stroke-width="0.8"/>
<line x1="18.6" y1="197.40" x2="20.5" y2="197.40" stroke="#bcbcbc" stroke-width="0.8"/>
<line x1="18.6" y1="189.25" x2="20.5" y2="189.25" stroke="#bcbcbc" stroke-width="0.8"/>
<line x1="18.6" y1="181.10" x2="21.8" y2="181.10" stroke="#bcbcbc" stroke-width="0.8"/>
<line x1="18.6" y1="172.95" x2="20.5" y2="172.95" stroke="#bcbcbc" stroke-width="0.8"/>
<line x1="18.6" y1="164.80" x2="20.5" y2="164.80" stroke="#bcbcbc" stroke-width="0.8"/>
<line x1="18.6" y1="156.65" x2="20.5" y2="156.65" stroke="#bcbcbc" stroke-width="0.8"/>
<line x1="18.6" y1="148.50" x2="20.5" y2="148.50" stroke="#bcbcbc" stroke-width="0.8"/>
<line x1="18.6" y1="140.35" x2="21.8" y2="140.35" stroke="#bcbcbc" stroke-width="0.8"/>
<line x1="18.6" y1="132.20" x2="20.5" y2="132.20" stroke="#bcbcbc" stroke-width="0.8"/>
<line x1="18.6" y1="124.05" x2="20.5" y2="124.05" stroke="#bcbcbc" stroke-width="0.8"/>
<line x1="18.6" y1="115.90" x2="20.5" y2="115.90" stroke="#bcbcbc" stroke-width="0.8"/>
<line x1="18.6" y1="107.75" x2="20.5" y2="107.75" stroke="#bcbcbc" stroke-width="0.8"/>
<line x1="18.6" y1="99.60" x2="21.8" y2="99.60" stroke="#bcbcbc" stroke-width="0.8"/>
<line x1="18.6" y1="91.45" x2="20.5" y2="91.45" stroke="#bcbcbc" stroke-width="0.8"/>
<line x1="18.6" y1="83.30" x2="20.5" y2="83.30" stroke="#bcbcbc" stroke-width="0.8"/>
<line x1="18.6" y1="75.15" x2="20.5" y2="75.15" stroke="#bcbcbc" stroke-width="0.8"/>
<line x1="18.6" y1="67.00" x2="20.5" y2="67.00" stroke="#bcbcbc" stroke-width="0.8"/>
<line x1="18.6" y1="58.85" x2="21.8" y2="58.85" stroke="#bcbcbc" stroke-width="0.8"/>
<line x1="18.6" y1="50.70" x2="20.5" y2="50.70" stroke="#bcbcbc" stroke-width="0.8"/>
<line x1="18.6" y1="42.55" x2="20.5" y2="42.55" stroke="#bcbcbc" stroke-width="0.8"/>
<line x1="18.6" y1="34.40" x2="20.5" y2="34.40" stroke="#bcbcbc" stroke-width="0.8"/>
<line x1="18.6" y1="26.25" x2="20.5" y2="26.25" stroke="#bcbcbc" stroke-width="0.8"/>
<line x1="18.6" y1="18.10" x2="21.8" y2="18.10" stroke="#bcbcbc" stroke-width="0.8"/>
<line x1="18.60" y1="262.6" x2="18.60" y2="261.4" stroke="#adadad" stroke-width="0.8"/>
<line x1="39.69" y1="262.6" x2="39.69" y2="261.4" stroke="#adadad" stroke-width="0.8"/>
<line x1="60.77" y1="262.6" x2="60.77" y2="261.4" stroke="#adadad" stroke-width="0.8"/>
<line x1="81.86" y1="262.6" x2="81.86" y2="260.8" stroke="#adadad" stroke-width="0.8"/>
<line x1="102.94" y1="262.6" x2="102.94" y2="261.4" stroke="#adadad" stroke-width="0.8"/>
<line x1="124.03" y1="262.6" x2="124.03" y2="261.4" stroke="#adadad" stroke-width="0.8"/>
<line x1="145.11" y1="262.6" x2="145.11" y2="261.4" stroke="#adadad" stroke-width="0.8"/>
<line x1="166.19" y1="262.6" x2="166.19" y2="261.4" stroke="#adadad" stroke-width="0.8"/>
<line x1="187.28" y1="262.6" x2="187.28" y2="260.8" stroke="#adadad" stroke-width="0.8"/>
<line x1="208.37" y1="262.6" x2="208.37" y2="261.4" stroke="#adadad" stroke-width="0.8"/>
<line x1="229.45" y1="262.6" x2="229.45" y2="261.4" stroke="#adadad" stroke-width="0.8"/>
<line x1="250.53" y1="262.6" x2="250.53" y2="261.4" stroke="#adadad" stroke-width="0.8"/>
<line x1="271.62" y1="262.6" x2="271.62" y2="261.4" stroke="#adadad" stroke-width="0.8"/>
<line x1="292.71" y1="262.6" x2="292.71" y2="260.8" stroke="#adadad" stroke-width="0.8"/>
<line x1="313.79" y1="262.6" x2="313.79" y2="261.4" stroke="#adadad" stroke-width="0.8"/>
<line x1="334.88" y1="262.6" x2="334.88" y2="261.4" stroke="#adadad" stroke-width="0.8"/>
<line x1="355.96" y1="262.6" x2="355.96" y2="261.4" stroke="#adadad" stroke-width="0.8"/>
<line x1="377.05" y1="262.6" x2="377.05" y2="261.4" stroke="#adadad" stroke-width="0.8"/>
<line x1="398.13" y1="262.6" x2="398.13" y2="260.8" stroke="#adadad" stroke-width="0.8"/>
<line x1="466" y1="100.90" x2="492.6" y2="100.90" stroke="#2eff2e" stroke-width="1.45"/>
<line x1="466" y1="116.10" x2="492.6" y2="116.10" stroke="#2eff2e" stroke-width="1.45" stroke-dasharray="4.0 1.5"/>
<line x1="466" y1="132.90" x2="492.6" y2="132.90" stroke="#ff9226" stroke-width="1.45"/>
<line x1="466" y1="147.60" x2="492.6" y2="147.60" stroke="#ff9226" stroke-width="1.45" stroke-dasharray="4.0 1.5"/>
<line x1="466" y1="163.55" x2="492.6" y2="163.55" stroke="#a9713b" stroke-width="1.45"/>
<line x1="466" y1="177.90" x2="492.6" y2="177.90" stroke="#a9713b" stroke-width="1.45" stroke-dasharray="4.0 1.5"/>
</svg>
<div class="b" style="left:0;top:1px;width:529px;height:1px;background:#ededed"></div>
<div class="b" style="left:0;top:276px;width:529px;height:1px;background:#dcdcdc"></div>
<div class="b" style="left:0;top:278px;width:529px;height:1px;background:#efefef"></div>
<div class="b" style="left:527px;top:0;width:1px;height:278px;background:#e4e4e4"></div>
<div class="b" style="left:0;top:0;width:1px;height:278px;background:#737373"></div>
<div class="b" style="left:528px;top:0;width:1px;height:278px;background:#141414"></div>
<div class="b" style="left:0;top:0;width:529px;height:1px;background:#282828"></div>
<div class="b" style="left:0;top:277px;width:529px;height:1px;background:#222"></div>
<div class="t yl" style="top:218.8px">0.05</div>
<div class="t yl" style="top:178.0px">0.10</div>
<div class="t yl" style="top:137.3px">0.15</div>
<div class="t yl" style="top:96.5px">0.20</div>
<div class="t yl" style="top:55.8px">0.25</div>
<div class="t xl" style="left:72.0px;top:265.9px">20</div>
<div class="t xl" style="left:177.4px;top:265.9px">25</div>
<div class="t xl" style="left:282.8px;top:265.9px">30</div>
<div class="t xl" style="left:388.2px;top:265.9px">35</div>
<div class="t" style="left:5.0px;top:5.7px;font-size:11px;color:#444"><i style="display:inline-block;transform:scaleX(1.18);transform-origin:0 50%;-webkit-text-stroke:0.15px #444">&rho;</i><span style="font-size:6.8px;position:relative;top:1.0px;margin-left:1.1px;color:#505050">Uh</span></div>
<div class="t" style="left:412.0px;top:255.9px;font-size:11.5px;color:#444;-webkit-text-stroke:0.15px #444"><i>m</i><i style="font-size:6.6px;position:relative;top:1.7px">U</i>(Mev)</div>
<div class="t lg" style="top:94.9px">&Delta;a<span class="su" style="">M</span><span class="sb">&mu;</span></div>
<div class="t lg" style="top:109.9px">&Delta;a<span class="su" style="font-style:normal;">m</span><span class="sb">&mu;</span></div>
<div class="t lg" style="top:126.9px"><i>&delta;</i>E<span class="su" style="">M</span><span class="sb">H</span></div>
<div class="t lg" style="top:141.9px"><i>&delta;</i>E<span class="su" style="font-style:normal;">m</span><span class="sb">H</span></div>
<div class="t lg" style="top:157.9px"><i>&delta;</i>E<span class="su" style="">M</span><span class="sb">D</span></div>
<div class="t lg" style="top:172.9px"><i>&delta;</i>E<span class="su" style="font-style:normal;">m</span><span class="sb">D</span></div>
</div></body></html>
